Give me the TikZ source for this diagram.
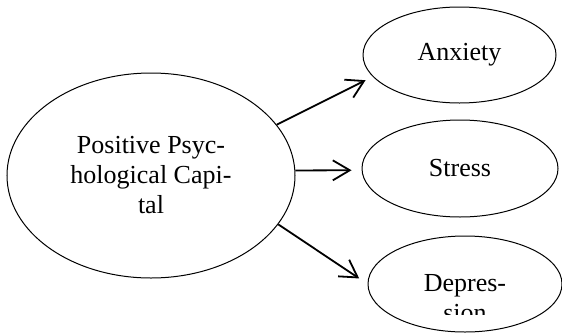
\documentclass[tikz,border=0pt]{standalone}
\usepackage{fontspec}
\setmainfont{Liberation Serif}
\usetikzlibrary{shapes.geometric,arrows.meta}
\definecolor{ink}{HTML}{000000}
\tikzset{
  oval/.style={draw=ink, ellipse, line width=1pt, inner sep=0pt, font=\fontsize{26}{30}\selectfont, align=center},
  link/.style={draw=ink, line width=1.8pt, -{Straight Barb[length=17pt,width=20pt]}},
  labs/.style={font=\fontsize{26}{30}\selectfont, align=center}
}

\begin{document}
\begin{tikzpicture}[x=1pt,y=-1pt]
  \useasboundingbox (0,0) rectangle (562,335);
  \node[oval, minimum width=288pt, minimum height=205pt] (psycap) at (151,175.5) {Positive Psyc-\\hological Capi-\\tal};
  \node[oval, minimum width=193pt, minimum height=96pt] (anxiety) at (459.5,55) {Anxiety};
  \node[oval, minimum width=196pt, minimum height=97pt] (stress) at (460,168.5) {Stress};
  \node[oval, minimum width=194pt, minimum height=96pt] (depression) at (465,284) {};
  \begin{scope}
    \clip (0,0) rectangle (562,314);
    \node[labs] (depressionlab) at (465,298) {Depres-\\sion};
  \end{scope}

  \draw[link, shorten >=8pt] (psycap.22) -- (anxiety.194);
  \draw[link, shorten >=10pt] (psycap.2) -- (stress.181);
  \draw[link, shorten >=10pt] (psycap.339) -- (depression.west);
\end{tikzpicture}
\end{document}
